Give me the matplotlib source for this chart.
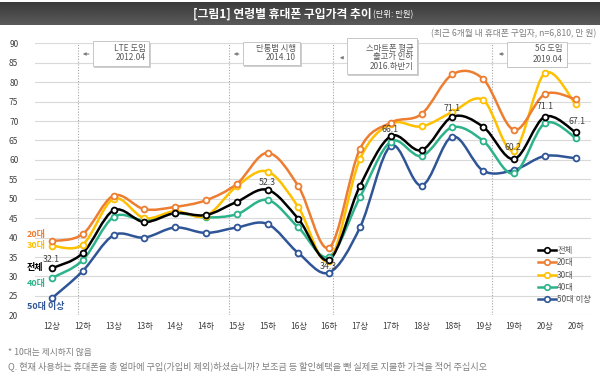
import numpy as np
import matplotlib
matplotlib.use("Agg")
import matplotlib.pyplot as plt
from matplotlib.path import Path
from matplotlib.patches import PathPatch, Rectangle, FancyArrowPatch
from matplotlib.lines import Line2D
from matplotlib.colors import LinearSegmentedColormap

plt.rcParams['font.family'] = ['Noto Sans CJK KR', 'DejaVu Sans']

categories = ['12상', '12하', '13상', '13하', '14상', '14하', '15상', '15하', '16상',
              '16하', '17상', '17하', '18상', '18하', '19상', '19하', '20상', '20하']
total = [32.1, 36.0, 47.0, 44.0, 46.3, 45.8, 49.2, 52.3, 44.8, 34.3, 53.3, 66.1, 62.5, 71.1, 68.5, 60.2, 71.1, 67.1]
age20 = [39.1, 40.9, 50.8, 47.3, 47.9, 49.6, 53.8, 61.8, 53.2, 37.4, 62.8, 69.6, 71.8, 82.0, 80.8, 67.7, 76.9, 75.6]
age30 = [37.9, 38.2, 50.0, 45.0, 46.8, 45.6, 53.2, 57.0, 47.8, 34.0, 60.2, 69.3, 68.6, 72.3, 75.4, 62.4, 82.3, 74.3]
age40 = [29.6, 34.2, 45.3, 44.5, 46.3, 45.2, 46.0, 49.7, 42.6, 35.1, 50.4, 64.7, 61.0, 68.4, 64.9, 56.5, 69.4, 65.7]
age50 = [24.4, 31.4, 40.6, 40.0, 42.6, 41.2, 42.6, 43.5, 36.0, 31.0, 42.6, 63.6, 53.4, 66.0, 57.2, 57.4, 61.0, 60.4]
series_names = ['전체', '20대', '30대', '40대', '50대 이상']
series_vals = [total, age20, age30, age40, age50]
colors = ['#000000', '#ED7D31', '#FFC000', '#2DB38A', '#2F5597']
labeled_idx = [0, 7, 9, 11, 13, 15, 16, 17]
events = [(0.83, ['LTE 도입', '2012.04']),
          (5.75, ['단통법 시행', '2014.10']),
          (9.12, ['스마트폰 평균', '출고가 인하', '2016.하반기']),
          (14.3, ['5G 도입', '2019.04'])]

W, H = 600, 376
fig = plt.figure(figsize=(6, 3.76), dpi=100)
fx = lambda px: px / W
fy = lambda py: 1 - py / H

ax = fig.add_axes([fx(35), fy(315.3), fx(591) - fx(35), fy(43.3) - fy(315.3)])
ax.set_xlim(-0.55, 17.5)
ax.set_ylim(20, 90)
for s in ax.spines.values():
    s.set_visible(False)
ax.set_yticks(np.arange(20, 91, 5))
ax.yaxis.grid(True, color='#D9D9D9', lw=0.8)
ax.set_axisbelow(True)
ax.tick_params(axis='y', length=0, pad=12, labelsize=6, labelcolor='#404040')
ax.set_xticks(range(len(categories)))
ax.set_xticklabels(categories)
ax.tick_params(axis='x', length=0, pad=5, labelsize=6, labelcolor='#404040')

for xe, _ in events:
    ax.axvline(xe, color='#A6A6A6', lw=0.8, ls=(0, (1, 1.5)), zorder=1)


def smooth_path(xs, ys):
    pts = np.column_stack([xs, ys]).astype(float)
    n = len(pts)
    verts = [pts[0]]
    codes = [Path.MOVETO]
    for i in range(n - 1):
        p0 = pts[i - 1] if i > 0 else pts[i]
        p1 = pts[i]
        p2 = pts[i + 1]
        p3 = pts[i + 2] if i + 2 < n else pts[i + 1]
        c1 = p1 + (p2 - p0) / 6.0
        c2 = p2 - (p3 - p1) / 6.0
        verts += [c1, c2, p2]
        codes += [Path.CURVE4] * 3
    return Path(verts, codes)


xs = np.arange(len(categories))
order = [4, 3, 2, 1, 0]
for k in order:
    vals = series_vals[k]
    c = colors[k]
    ax.add_patch(PathPatch(smooth_path(xs, vals), fill=False, edgecolor=c, lw=1.8,
                           zorder=3 + (5 - k) * 0.1, capstyle='round', joinstyle='round'))
    ax.plot(xs, vals, 'o', ms=4.2, mfc='white', mec=c, mew=1.3, zorder=4 + (5 - k) * 0.1)

# data labels on total
offsets = {0: (-1, 9), 7: (0, 7), 9: (-1, -7), 11: (-1, 7), 13: (0, 8), 15: (-1, 12), 16: (0, 10), 17: (1, 11)}
for i in labeled_idx:
    dx, dy = offsets[i]
    ax.annotate(f'{total[i]:.1f}', (xs[i], total[i]), xytext=(dx, dy), textcoords='offset pixels',
                ha='center', va='center', fontsize=6.3, color='#404040', zorder=10)

# left series labels
left_labels = [('20대', 235, colors[1]), ('30대', 245.7, colors[2]), ('전체', 267.7, colors[0]),
               ('40대', 283.3, colors[3]), ('50대 이상', 306, colors[4])]
for txt, py, c in left_labels:
    fig.text(fx(27), fy(py), txt, ha='left', va='center', fontsize=6.5, fontweight='bold', color=c)

# legend
handles = [Line2D([0], [0], color=c, lw=1.8, marker='o', ms=4, mfc='white', mec=c, mew=1.2)
           for c in colors]
leg = fig.legend(handles, series_names, loc='upper left', bbox_to_anchor=(fx(538), fy(246)),
                 frameon=False, fontsize=6, handlelength=2.1, handletextpad=0.2,
                 labelspacing=0.4, borderpad=0, borderaxespad=0)
for t in leg.get_texts():
    t.set_color('#595959')

# event boxes
boxes = [(92.7, 149.3, 41, 66, [48, 58], 54, 80),
         (242.7, 300, 41.7, 65, [48, 58], 54, 231),
         (346.7, 417.3, 38, 74, [48.3, 57, 67], 57.7, 337),
         (507.3, 566.7, 41.7, 66.7, [49, 59], 54, 496)]
for (x0, x1, y0, y1, lys, ay, ax_end), (_, lines) in zip(boxes, events):
    fig.add_artist(Rectangle((fx(x0 + 1.5), fy(y1 + 1.5)), fx(x1) - fx(x0), fy(y0) - fy(y1),
                             transform=fig.transFigure, facecolor='#CFCFCF', edgecolor='none', zorder=5))
    fig.add_artist(Rectangle((fx(x0), fy(y1)), fx(x1) - fx(x0), fy(y0) - fy(y1),
                             transform=fig.transFigure, facecolor='white', edgecolor='#BFBFBF',
                             lw=0.6, zorder=6))
    for ly, line in zip(lys, lines):
        fig.text(fx(x1 - 4), fy(ly), line, ha='right', va='center', fontsize=6,
                 color='#595959', zorder=7)
    fig.add_artist(FancyArrowPatch((fx(x0 - 1), fy(ay)), (fx(ax_end), fy(ay)),
                                   transform=fig.transFigure, arrowstyle='-|>', mutation_scale=4,
                                   color='#7F7F7F', lw=0.8, zorder=7))

# title band
band = fig.add_axes([0, fy(25), 1, fy(2) - fy(25)])
grad = np.linspace(0, 1, 50).reshape(-1, 1)
cmap = LinearSegmentedColormap.from_list('g', ['#3A3A3A', '#5A5A5A'])
band.imshow(grad, aspect='auto', cmap=cmap, extent=[0, 1, 0, 1])
band.set_axis_off()
fig.text(fx(372), fy(14), '[그림1] 연령별 휴대폰 구입가격 추이', ha='right', va='center',
         fontsize=8.5, fontweight='bold', color='white')
fig.text(fx(373), fy(15), '(단위: 만원)', ha='left', va='center', fontsize=6, color='white')

fig.text(fx(596), fy(34), '(최근 6개월 내 휴대폰 구입자, n=6,810, 만 원)', ha='right', va='center',
         fontsize=6.3, color='#7F7F7F')

fig.text(fx(8), fy(352), '* 10대는 제시하지 않음', ha='left', va='center', fontsize=6.3, color='#7F7F7F')
fig.text(fx(8), fy(366), 'Q. 현재 사용하는 휴대폰을 총 얼마에 구입(가입비 제외)하셨습니까? 보조금 등 할인혜택을 뺀 실제로 지불한 가격을 적어 주십시오',
         ha='left', va='center', fontsize=6.6, color='#7F7F7F')

fig.savefig('out.png', dpi=100)
